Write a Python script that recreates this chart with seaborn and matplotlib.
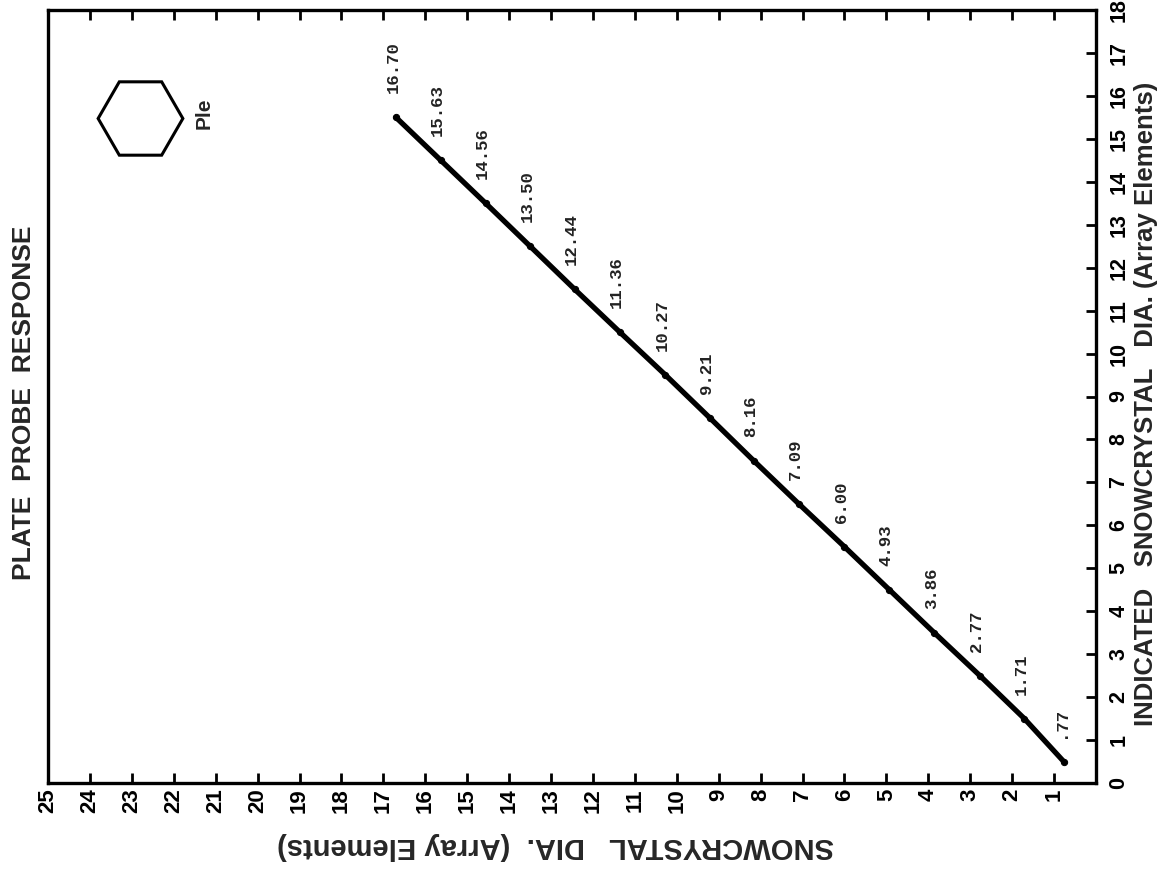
import matplotlib
matplotlib.use("Agg")
import matplotlib.pyplot as plt
import seaborn as sns
import pandas as pd

# ---- data (original chart: x = indicated dia, y = snowcrystal dia; page is rotated) ----
indicated_dia = [0.5, 1.5, 2.5, 3.5, 4.5, 5.5, 6.5, 7.5, 8.5, 9.5, 10.5, 11.5, 12.5, 13.5, 14.5, 15.5]
snowcrystal_dia = [0.77, 1.71, 2.77, 3.86, 4.93, 6.00, 7.09, 8.16, 9.21, 10.27, 11.36, 12.44,
                   13.50, 14.56, 15.63, 16.70]
point_labels = [".77", "1.71", "2.77", "3.86", "4.93", "6.00", "7.09", "8.16", "9.21", "10.27",
                "11.36", "12.44", "13.50", "14.56", "15.63", "16.70"]
snow_ticks = list(range(1, 26))
indicated_ticks = list(range(0, 19))

title = "PLATE  PROBE  RESPONSE"
indicated_label = "INDICATED   SNOWCRYSTAL   DIA. (Array Elements)"
snow_label = "SNOWCRYSTAL   DIA.  (Array Elements)"
legend_label = "Ple"

sns.set_theme(style="white")
plt.rcParams["font.family"] = ["Liberation Sans", "DejaVu Sans"]

W, H = 1166, 873
fig = plt.figure(figsize=(W / 100, H / 100), dpi=100)
fig.patch.set_facecolor("white")
L, R, T, B = 48, 1096, 10, 783
ax = fig.add_axes([L / W, 1 - B / H, (R - L) / W, (B - T) / H])

df = pd.DataFrame({"snow": snowcrystal_dia, "indicated": indicated_dia})
sns.lineplot(data=df, x="snow", y="indicated", sort=False, color="black", linewidth=3.8,
             marker="o", markersize=4.5, markeredgecolor="black", ax=ax)

ax.set_xlim(25, 0)
ax.set_ylim(0, 18)
ax.set_xlabel("")
ax.set_ylabel("")

for s in ax.spines.values():
    s.set_color("black")
    s.set_linewidth(2.4)

ax.set_xticks(snow_ticks)
ax.set_xticklabels([str(t) for t in snow_ticks], rotation=90, fontweight="bold", fontsize=16)
ax.set_yticks(indicated_ticks)
ax.set_yticklabels([str(t) for t in indicated_ticks], rotation=90, fontweight="bold", fontsize=15.5,
                   va="center")
ax.tick_params(axis="x", which="both", direction="in", length=7, width=2, bottom=True, top=True,
               labelbottom=True, labeltop=False, pad=4, colors="black")
ax.tick_params(axis="y", which="both", direction="in", length=7, width=2, left=False, right=True,
               labelleft=False, labelright=True, pad=9, colors="black")
for lab in ax.get_yticklabels():
    lab.set_horizontalalignment("left")

# point labels
for xv, yv, txt in zip(snowcrystal_dia, indicated_dia, point_labels):
    ax.annotate(txt, (xv, yv), xytext=(-3, 24), textcoords="offset pixels", rotation=90,
                ha="center", va="bottom", fontsize=12.5, fontweight="bold",
                family=["Liberation Mono", "DejaVu Sans Mono"], color="#222222")

# legend key (hexagon)
ax.plot([(139.5 - L) / (R - L)], [(B - 118) / (B - T)], transform=ax.transAxes, marker="H",
        markersize=61, markerfacecolor="none", markeredgecolor="black", markeredgewidth=2.2,
        linestyle="none", clip_on=False)
fig.text(204 / W, 1 - 113 / H, legend_label, rotation=90, ha="center", va="center",
         fontsize=15, fontweight="bold")

# titles / axis labels
fig.text(24 / W, 1 - 403 / H, title, rotation=90, ha="center", va="center",
         fontsize=19, fontweight="bold")
fig.text(1146 / W, 1 - 726 / H, indicated_label, rotation=90, ha="center", va="bottom",
         fontsize=18.5, fontweight="bold")
fig.text(555 / W, 1 - 846 / H, snow_label, rotation=180, ha="center", va="center",
         fontsize=21, fontweight="bold")

fig.savefig("out.png", dpi=100, facecolor="white")
